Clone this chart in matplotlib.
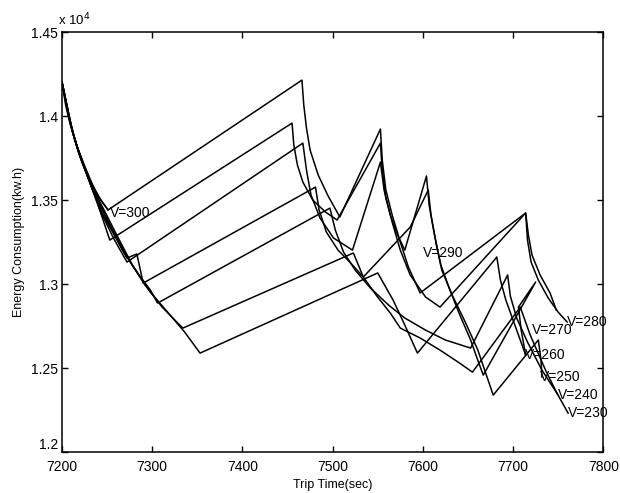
import matplotlib
matplotlib.use('Agg')
import matplotlib.pyplot as plt

# trip time (sec) / energy (kw.h), one list per run
x1 = [7200, 7207, 7214, 7226, 7237, 7251, 7466, 7468, 7471, 7475, 7484, 7495, 7508, 7553, 7555, 7559, 7566, 7575, 7584, 7597, 7714, 7716, 7720, 7728, 7739, 7750, 7760]
y1 = [14202, 14024, 13857, 13691, 13548, 13441, 14214, 14066, 13929, 13798, 13649, 13524, 13399, 13923, 13738, 13560, 13411, 13250, 13101, 12947, 13423, 13262, 13131, 13024, 12917, 12833, 12774]

x2 = [7200, 7207, 7216, 7228, 7240, 7253, 7455, 7457, 7461, 7467, 7478, 7492, 7505, 7553, 7555, 7559, 7566, 7575, 7586, 7603, 7619, 7714, 7717, 7721, 7730, 7741, 7748]
y2 = [14202, 14006, 13827, 13649, 13470, 13262, 13958, 13827, 13708, 13607, 13500, 13429, 13381, 13839, 13679, 13512, 13369, 13202, 13054, 12923, 12863, 13423, 13292, 13173, 13054, 12947, 12845]

x3 = [7200, 7208, 7217, 7229, 7242, 7257, 7272, 7467, 7471, 7476, 7486, 7501, 7522, 7553, 7557, 7564, 7572, 7580, 7604, 7607, 7613, 7620, 7630, 7641, 7653, 7660, 7667, 7725, 7706, 7709, 7714]
y3 = [14202, 13988, 13810, 13631, 13441, 13274, 13131, 13839, 13679, 13530, 13393, 13274, 13202, 13726, 13560, 13411, 13292, 13202, 13643, 13470, 13292, 13113, 12964, 12816, 12667, 12560, 12458, 13012, 12863, 12726, 12577]

x4 = [7200, 7209, 7218, 7231, 7245, 7261, 7272, 7283, 7290, 7481, 7485, 7493, 7506, 7519, 7534, 7586, 7606, 7609, 7615, 7621, 7633, 7647, 7661, 7678, 7728, 7731, 7732]
y4 = [14202, 13964, 13786, 13601, 13417, 13262, 13155, 13179, 13006, 13577, 13441, 13310, 13202, 13131, 13042, 13339, 13560, 13411, 13232, 13083, 12929, 12774, 12607, 12339, 12667, 12548, 12447]

x5 = [7200, 7210, 7220, 7234, 7250, 7267, 7283, 7298, 7306, 7497, 7503, 7512, 7525, 7542, 7562, 7580, 7603, 7625, 7653, 7694, 7697, 7704, 7716, 7732, 7750]
y5 = [14202, 13941, 13762, 13560, 13381, 13202, 13071, 12964, 12887, 13452, 13321, 13191, 13083, 12976, 12875, 12798, 12726, 12667, 12619, 13054, 12929, 12798, 12655, 12488, 12339]

x6 = [7200, 7211, 7222, 7238, 7255, 7273, 7292, 7311, 7325, 7334, 7523, 7534, 7549, 7564, 7575, 7597, 7619, 7639, 7655, 7708, 7719, 7736, 7748, 7761]
y6 = [14202, 13917, 13726, 13524, 13333, 13155, 12994, 12863, 12786, 12738, 13185, 13042, 12929, 12827, 12738, 12679, 12607, 12536, 12476, 12863, 12697, 12488, 12357, 12232]

x7 = [7200, 7212, 7224, 7241, 7259, 7278, 7298, 7318, 7336, 7353, 7550, 7567, 7580, 7594, 7682, 7686, 7692, 7700, 7708, 7714]
y7 = [14202, 13899, 13702, 13500, 13310, 13113, 12952, 12827, 12714, 12589, 13066, 12905, 12756, 12589, 13161, 13024, 12905, 12786, 12667, 12577]

x8 = [7200, 7204, 7209, 7216, 7224, 7234, 7243, 7251]
y8 = [14202, 14066, 13952, 13827, 13708, 13589, 13500, 13441]

runs = [(x1, y1), (x2, y2), (x3, y3), (x4, y4), (x5, y5), (x6, y6), (x7, y7), (x8, y8)]

labels = ['V=300', 'V=290', 'V=280', 'V=270', 'V=260', 'V=250', 'V=240', 'V=230']
label_x = [7253, 7600, 7760, 7721, 7713, 7730, 7750, 7761]
label_y = [13423, 13185, 12774, 12726, 12577, 12447, 12339, 12232]

xticks = [7200, 7300, 7400, 7500, 7600, 7700, 7800]
yticks = [12000, 12500, 13000, 13500, 14000, 14500]
yticklabels = ['1.2', '1.25', '1.3', '1.35', '1.4', '1.45']

plt.rcParams['font.family'] = ['Liberation Sans', 'DejaVu Sans']

fig = plt.figure(figsize=(6.2, 4.93), dpi=100)
ax = fig.add_axes([0.1, 0.083, 0.873, 0.852])

for xs, ys in runs:
    ax.plot(xs, ys, color='black', linewidth=1.1)

for t, lx, ly in zip(labels, label_x, label_y):
    ax.text(lx, ly, t, fontsize=10, va='center', ha='left')

ax.set_xlim(7200, 7800)
ax.set_ylim(12000, 14500)
ax.set_xticks(xticks)
ax.set_xticklabels([str(v) for v in xticks])
ax.set_yticks(yticks)
ax.set_yticklabels(yticklabels)
ax.tick_params(direction='in', top=True, right=True, labelsize=10, length=4, width=1)
ax.tick_params(axis='x', pad=6)
ax.tick_params(axis='y', pad=3)
# matlab puts "1.2" a little above the corner
ax.get_yticklabels()[0].set_va('bottom')
for s in ax.spines.values():
    s.set_linewidth(1.1)

ax.text(-0.008, 1.008, r'x 10$^4$', transform=ax.transAxes, fontsize=9.5, ha='left', va='bottom')
ax.set_xlabel('Trip Time(sec)', fontsize=9, labelpad=3)
ax.set_ylabel('Energy Consumption(kw.h)', fontsize=9, labelpad=4)

fig.savefig('out.png', dpi=100)
